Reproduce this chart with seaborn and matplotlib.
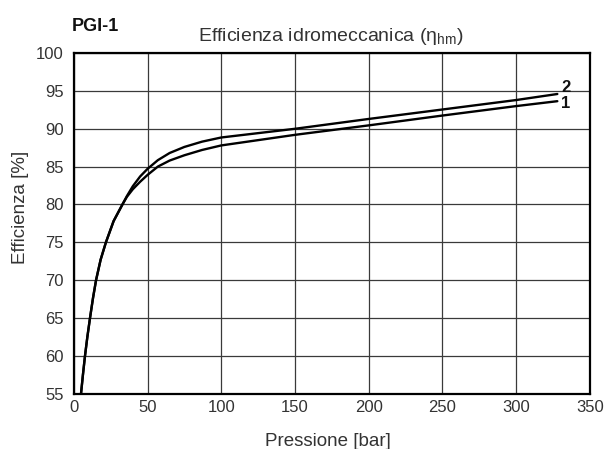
import matplotlib
matplotlib.use("Agg")
import matplotlib.pyplot as plt
import seaborn as sns
import pandas as pd

# Pressure [bar] and hydromechanical efficiency [%] for the two curves
pressure = [4.9, 6.2, 7.6, 9.2, 11, 13, 15.1, 18.2, 21.8, 27, 33, 36, 40, 45, 50, 57,
            65, 75, 87, 100, 150, 200, 250, 300, 328]
eff_1 = [55, 57.5, 60, 62.5, 65, 67.6, 70, 72.7, 75, 77.8, 80.0, 81.0, 82.0, 83.0, 83.9, 85.0,
         85.8, 86.5, 87.2, 87.8, 89.2, 90.45, 91.75, 93.0, 93.65]
eff_2 = [55, 57.5, 60, 62.5, 65, 67.6, 70, 72.7, 75, 77.8, 80.0, 81.1, 82.4, 83.7, 84.7, 85.85,
         86.8, 87.6, 88.3, 88.85, 90.0, 91.3, 92.55, 93.8, 94.6]
curve_labels = ["1", "2"]

x_ticks = [0, 50, 100, 150, 200, 250, 300, 350]
y_ticks = [55, 60, 65, 70, 75, 80, 85, 90, 95, 100]

sns.set_theme(style="white")
plt.rcParams["font.family"] = ["Liberation Sans", "DejaVu Sans"]
plt.rcParams["mathtext.default"] = "regular"

df = pd.concat([
    pd.DataFrame({"p": pressure, "eta": eff_1, "curve": curve_labels[0]}),
    pd.DataFrame({"p": pressure, "eta": eff_2, "curve": curve_labels[1]}),
])

fig = plt.figure(figsize=(6.07, 4.49), dpi=100)
ax = fig.add_axes([0.1216, 0.1236, 0.850, 0.758])

sns.lineplot(data=df, x="p", y="eta", hue="curve", palette=["black", "black"],
             linewidth=1.7, legend=False, ax=ax, sort=False)

ax.set_xlim(0, 350)
ax.set_ylim(55, 100)
ax.set_xticks(x_ticks)
ax.set_yticks(y_ticks)
ax.grid(True, color="#3a3a3a", linewidth=0.9)
ax.set_axisbelow(True)
for s in ax.spines.values():
    s.set_color("black")
    s.set_linewidth(1.6)
ax.tick_params(axis="both", length=0, labelsize=12, labelcolor="#333333")
ax.tick_params(axis="x", pad=4.5)
ax.tick_params(axis="y", pad=7.5)

ax.set_xlabel("Pressione [bar]", fontsize=13.5, color="#333333")
ax.xaxis.label.set_va("baseline")
ax.xaxis.set_label_coords(0.4927, -0.154)
ax.set_ylabel("Efficienza [%]", fontsize=13.5, color="#333333")
ax.yaxis.label.set_va("center")
ax.yaxis.set_label_coords(-0.104, 0.548)

# Curve numbers at the line ends
ax.text(334, 95.4, curve_labels[1], fontsize=12, fontweight="bold",
        ha="center", va="center", color="#111111")
ax.text(333.6, 93.35, curve_labels[0], fontsize=12, fontweight="bold",
        ha="center", va="center", color="#111111")

fig.text(0.545, 0.9094, "Efficienza idromeccanica (η$_{hm}$)", fontsize=14,
         color="#333333", ha="center", va="baseline")
fig.text(0.1186, 0.930, "PGI-1", fontsize=13, fontweight="bold",
         color="#111111", ha="left", va="baseline")

fig.savefig("out.png", dpi=100)
